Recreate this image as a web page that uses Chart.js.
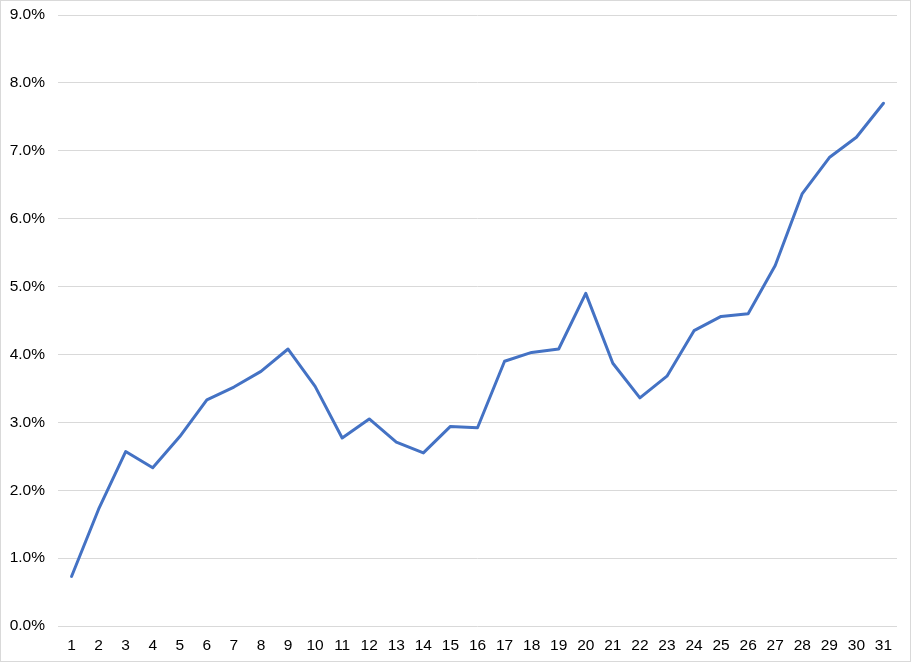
<!DOCTYPE html>
<html>
<head>
<meta charset="utf-8">
<script src="https://cdn.jsdelivr.net/npm/chart.js@4/dist/chart.umd.min.js"></script>
<style>
  html, body { margin: 0; padding: 0; background: #fff; }
  #wrap { width: 911px; height: 662px; box-sizing: border-box; border: 1px solid #d9d9d9; background: #fff; }
  canvas { display: block; }
</style>
</head>
<body>
<div id="wrap"><canvas id="c" width="909" height="660"></canvas></div>
<script>
const categories = ['1','2','3','4','5','6','7','8','9','10','11','12','13','14','15','16','17','18','19','20','21','22','23','24','25','26','27','28','29','30','31'];
const values = [0.73, 1.72, 2.57, 2.33, 2.79, 3.33, 3.52, 3.75, 4.08, 3.53, 2.77, 3.05, 2.71, 2.55, 2.94, 2.92, 3.90, 4.03, 4.08, 4.90, 3.87, 3.36, 3.68, 4.35, 4.56, 4.60, 5.31, 6.37, 6.90, 7.20, 7.70];
const yMin = 0, yMax = 9, yStep = 1;

const font = { family: '"Liberation Sans", Arial, sans-serif', size: 15.5 };

new Chart(document.getElementById('c'), {
  type: 'line',
  data: {
    labels: categories,
    datasets: [{
      data: values,
      borderColor: '#4472C4',
      borderWidth: 3,
      pointRadius: 0,
      tension: 0,
      fill: false,
      borderCapStyle: 'round',
      borderJoinStyle: 'round'
    }]
  },
  options: {
    responsive: false,
    animation: false,
    devicePixelRatio: 1,
    layout: { padding: { top: 14, right: 13, left: 0, bottom: 0 } },
    plugins: { legend: { display: false }, tooltip: { enabled: false } },
    scales: {
      x: {
        offset: true,
        grid: { display: false, drawTicks: false },
        border: { display: false },
        ticks: { color: '#000', font: font, padding: 10, maxRotation: 0, autoSkip: false },
        afterFit: s => { s.height = 35; }
      },
      y: {
        min: yMin, max: yMax,
        grid: { color: '#d9d9d9', lineWidth: 1, drawTicks: true, tickLength: 13, tickColor: 'rgba(0,0,0,0)' },
        border: { display: false },
        ticks: { stepSize: yStep, color: '#000', font: font, padding: 0,
                 callback: v => v.toFixed(1) + '%' },
        afterFit: s => { s.width = 57; s.paddingTop = 0; s.paddingBottom = 0; }
      }
    }
  }
});
</script>
</body>
</html>
